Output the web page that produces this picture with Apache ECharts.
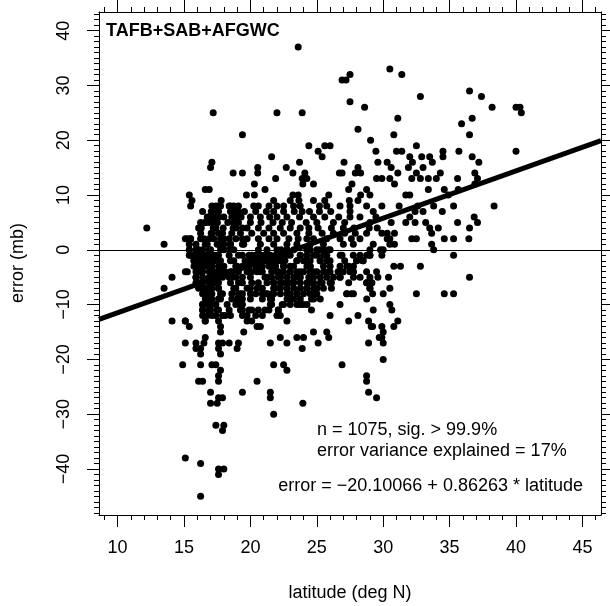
<!DOCTYPE html>
<html>
<head>
<meta charset="utf-8">
<script src="https://cdn.jsdelivr.net/npm/echarts@6/dist/echarts.min.js"></script>
<style>
html,body{margin:0;padding:0;background:#fff;}
#chart{width:610px;height:606px;}
</style>
</head>
<body>
<div id="chart"></div>
<script>
// ---- Data ----
// Each row: [error (mb), [latitudes (deg N) of points with that error]]
const upperRows = [
  [37, [23.6]],
  [33, [30.5]],
  [32, [27.5, 31.4]],
  [31, [26.9, 27.2]],
  [29, [36.5]],
  [28, [32.8, 37.4]],
  [27, [27.5]],
  [26, [28.6, 38.2, 40.0, 40.3]],
  [25, [17.2, 22.0, 23.9, 40.4]],
  [24, [31.1, 36.7]],
  [23, [35.9]],
  [22, [28.1]],
  [21, [19.4, 30.8, 36.5]],
  [20, [29.05]],
  [19, [24.4, 25.6, 26.0, 32.5]],
  [18, [25.1, 29.45, 31.0, 31.4, 34.5, 35.7, 40.0]],
  [17, [21.6, 25.4, 32.0, 32.9, 33.5, 34.5, 36.7]],
  [16, [17.1, 23.7, 27.05, 29.6, 30.3, 32.2, 33.7, 37.2]],
  [15, [17.0, 20.55, 22.7, 28.1, 30.6, 31.9, 33.0]],
  [14, [18.7, 19.4, 20.55, 23.2, 24.1, 26.7, 26.9, 27.9, 28.3, 31.1, 32.5, 34.3, 36.9]],
  [13, [21.9, 23.9, 24.25, 29.5, 29.9, 30.5, 32.15, 32.8, 33.4, 34.0, 35.6, 37.1]],
  [12, [20.3, 23.95, 24.75, 27.65, 30.85, 36.9]],
  [11, [16.6, 16.9, 21.1, 27.4, 28.75, 33.4, 34.6, 35.65]],
  [10, [15.4, 19.7, 20.3, 23.2, 23.6, 25.9, 28.3, 29.0, 31.7, 32.0, 34.9]],
  [9, [15.6, 17.8, 21.75, 23.0, 23.65, 24.75, 25.6, 27.45, 28.1]],
  [8, [17.75, 18.5, 20.25, 20.6, 21.4, 22.0, 22.5, 23.25, 23.75, 25.2, 25.75, 26.75, 27.5, 28.75, 29.9, 31.2, 32.6, 33.8, 35.3, 38.35]],
  [7, [16.4, 17.05, 17.5, 18.5, 18.95, 19.55, 20.4, 21.2, 21.75, 22.5, 23.3, 23.9, 24.45, 25.2, 26.05, 27.5, 29.25, 32.4, 33.0, 34.45]],
  [6, [17.4, 18.0, 18.6, 19.3, 20.0, 20.75, 21.45, 22.0, 22.75, 23.7, 24.75, 25.6, 26.65, 27.5, 28.25, 29.45, 32.0, 36.85]],
  [5, [16.6, 17.5, 18.3, 19.1, 20.0, 20.8, 21.7, 22.4, 23.1, 24.2, 25.0, 26.25, 27.1, 29.0, 30.6, 31.7, 32.4, 33.2, 35.6, 37.1]],
  [4, [12.2, 16.3, 17.2, 17.95, 18.7, 19.75, 20.6, 21.4, 22.25, 23.0, 23.75, 24.4, 25.1, 26.1, 27.0, 27.8, 28.95, 29.55, 33.5, 34.15, 36.5]],
  [3, [16.25, 17.05, 17.9, 18.6, 19.25, 20.1, 21.0, 21.75, 22.5, 23.5, 24.4, 25.4, 26.25, 27.1, 27.9, 28.75, 29.9, 30.3, 30.85, 33.65]],
  [2, [15.25, 15.5, 16.5, 17.25, 18.0, 18.9, 19.75, 20.6, 21.4, 22.0, 22.9, 23.6, 24.25, 24.75, 25.75, 26.75, 27.6, 28.25, 30.3, 30.5, 32.15, 32.5, 34.6, 35.3, 36.45]],
  [1, [13.5, 15.4, 16.75, 17.5, 18.5, 19.5, 20.75, 21.75, 22.75, 23.5, 24.5, 25.5, 27.0, 27.75, 29.25, 30.5, 30.85, 33.65]]
];
const middleRows = [
  [0, [15.4, 16.1, 17.0, 17.75, 18.75, 20.6, 21.25, 22.0, 22.75, 24.25, 25.25, 25.9, 29.0, 29.8, 30.0, 33.8]],
  [-1, [15.5, 16.1, 16.75, 17.4, 18.4, 19.1, 20.1, 20.75, 21.25, 22.0, 22.75, 23.75, 24.75, 25.75, 26.9, 27.75, 29.0, 29.9, 35.3]],
  [-2, [15.75, 16.4, 17.0, 17.75, 18.75, 20.0, 21.6, 22.25, 23.5, 24.25, 25.25, 26.0, 27.1, 28.0, 28.45]],
  [-3, [15.9, 16.5, 17.1, 18.0, 19.0, 19.5, 20.6, 21.6, 22.5, 23.25, 24.5, 25.5, 26.75, 27.4, 30.8, 31.3, 32.8]],
  [-4, [15.25, 16.1, 17.1, 17.75, 18.5, 19.75, 20.75, 22.0, 23.0, 23.75, 24.75, 25.9, 26.6, 27.75, 28.75]],
  [-5, [14.1, 15.9, 17.1, 17.9, 18.6, 20.0, 21.25, 22.25, 23.5, 24.4, 25.75, 26.75, 29.0, 29.6, 30.4, 36.5]],
  [-6, [16.25, 17.25, 18.5, 19.4, 20.6, 21.75, 23.1, 24.4, 25.4, 26.1, 27.4, 28.75, 29.15]],
  [-7, [13.5, 16.4, 17.0, 17.6, 18.75, 19.75, 20.75, 21.75, 22.75, 24.25, 25.0, 26.1, 29.0, 30.5]],
  [-8, [16.5, 17.75, 19.25, 20.0, 21.25, 21.75, 22.75, 23.5, 24.75, 27.25, 27.6, 29.2, 32.5, 34.6, 35.3]],
  [-9, [16.75, 17.75, 19.0, 20.0, 21.5, 23.0, 24.6]],
  [-10, [16.4, 17.4, 18.25, 19.25, 21.5, 22.5, 23.75, 26.75, 30.5]],
  [-11, [16.4, 17.0, 17.5, 18.4, 19.25, 19.9, 20.6, 21.4, 22.1, 24.6, 29.25, 30.65]],
  [-12, [16.75, 17.4, 17.9, 18.5, 19.75, 20.9, 22.0, 22.25, 26.0, 28.1]]
];
const lowerRows = [
  [-13, [14.1, 15.1, 16.6, 19.75, 22.75, 27.4, 28.9, 31.1]],
  [-14, [15.4, 17.75, 20.5, 20.75, 29.1, 29.2, 29.9, 30.8]],
  [-15, [17.75, 19.5, 24.75, 25.75, 30.0]],
  [-16, [16.6, 22.25, 23.5, 24.0, 25.9, 29.7, 29.9]],
  [-17, [15.1, 15.9, 16.5, 17.6, 17.9, 18.4, 19.1, 21.5, 22.75, 25.1, 28.9, 30.0]],
  [-18, [15.9, 16.25, 17.6, 19.0, 23.9]],
  [-19, [16.25, 17.75]],
  [-20, [30.0]],
  [-21, [14.9, 16.25, 17.1, 17.4, 21.75, 22.5, 26.9]],
  [-22, [17.75, 22.75]],
  [-23, [17.6, 28.75]],
  [-24, [16.1, 16.4, 17.6, 20.5, 28.75]],
  [-26, [17.0, 19.4, 21.5, 28.9]],
  [-27, [17.6, 17.9, 21.5, 29.5]],
  [-28, [17.0, 17.5, 23.95]],
  [-30, [21.75]],
  [-32, [17.4, 18.0]],
  [-33, [17.9]],
  [-38, [15.1]],
  [-39, [16.25]],
  [-40, [17.6, 18.0]],
  [-41, [17.6]],
  [-45, [16.25]]
];
// Additional points read from close-ups of the crowded core, west part (15-22.6 deg N)
const coreWestRows = [
  [8, [15.5, 17.1, 17.4, 17.6, 18.4, 18.75, 19.1]],
  [7, [17.6, 18.75, 19.1]],
  [6, [16.75, 17.1, 17.4, 17.6, 18.9]],
  [5, [16.25, 16.6, 16.9, 17.25, 17.5, 18.75]],
  [4, [16.1, 17.4, 18.9, 19.4]],
  [3, [17.1, 17.6]],
  [2, [15.1, 15.5, 16.25, 16.9, 17.75, 18.4, 19.4]],
  [1, [15.9, 16.6, 17.6, 18.0, 18.5, 19.4]],
  [0, [15.4, 15.9, 16.4, 16.9, 18.0, 18.4]],
  [-1, [15.4, 15.75, 16.1, 16.5, 16.9, 17.25, 17.6, 19.4, 19.9, 20.4, 20.75, 21.1, 21.5, 21.9, 22.3, 22.6]],
  [-2, [15.75, 16.1, 16.5, 16.9, 17.25, 17.6, 18.5, 19.6, 20.0, 20.4, 20.75, 21.1, 21.5, 21.9, 22.3, 22.6]],
  [-3, [15.75, 16.25, 16.75, 17.1, 17.6, 18.9, 19.4, 19.9, 20.4, 20.9, 21.4, 21.9]],
  [-4, [15.1, 15.9, 16.4, 16.9, 17.25, 17.6, 18.1, 18.6, 19.1, 20.1, 20.5, 20.9, 21.6, 22.1]],
  [-5, [15.9, 16.4, 16.9, 17.5, 18.4, 18.9, 19.4, 21.1, 21.6, 22.1]],
  [-6, [15.9, 16.4, 16.9, 17.25, 17.6, 19.1, 20.1, 21.25, 21.75, 22.4]],
  [-7, [16.1, 16.6, 17.1, 17.6, 18.9, 20.0, 20.5, 20.9, 21.9]],
  [-8, [16.4, 16.75, 17.1, 17.9, 18.6, 19.1, 19.4, 20.4, 20.9, 21.25, 21.6]],
  [-9, [16.6, 17.1, 17.6, 18.6, 19.1, 19.4, 20.9, 21.6]],
  [-10, [16.4, 16.75, 17.1, 18.9, 19.4, 21.6, 22.4]],
  [-11, [16.4, 16.9, 17.6, 19.4, 20.1, 21.1, 22.1]],
  [-12, [16.4, 17.1, 18.1, 19.4, 20.4]],
  [-13, [15.1, 16.6, 17.6, 20.1]]
];
// Additional points read from close-ups of the crowded core, east part (22.3-30 deg N)
const coreEastRows = [
  [0, [22.3, 22.76, 23.26, 24.5, 25.0, 25.5, 26.0]],
  [-1, [22.3, 23.0, 23.76, 24.26, 25.0, 25.5, 26.76, 28.26, 28.76, 29.0]],
  [-2, [23.5, 24.0, 24.5, 25.26, 25.76, 28.0, 28.5]],
  [-3, [22.5, 23.0, 24.26, 24.5, 26.0, 27.26, 27.76]],
  [-4, [22.5, 23.0, 23.5, 24.0, 24.5, 25.0, 25.5, 26.0, 27.0, 27.5, 27.76, 29.5]],
  [-5, [22.26, 22.76, 23.26, 23.76, 24.76, 25.26, 26.26, 26.76, 27.76, 28.26]],
  [-6, [22.26, 22.76, 23.26, 23.76, 24.26, 24.76, 25.26, 26.0, 28.76]],
  [-7, [22.26, 22.76, 23.26, 23.76, 24.26, 24.76, 25.0, 25.5, 29.0]],
  [-8, [22.26, 23.0, 23.5, 24.0, 24.5, 25.0, 27.26, 27.76, 30.0]],
  [-9, [22.76, 23.26, 23.76, 24.76, 25.26, 28.76]],
  [-10, [23.0, 23.5, 24.0, 24.26]]
];

// Regression coefficients, tick labels and texts
const intercept = -20.10066;
const slope = 0.86263;
const xTickLabels = [10, 15, 20, 25, 30, 35, 40, 45];
const yTickLabels = [-40, -30, -20, -10, 0, 10, 20, 30, 40];
const annotationLines = ['n = 1075, sig. > 99.9%', 'error variance explained = 17%'];
const equationText = 'error = \u221220.10066 + 0.86263 * latitude';
const titleText = 'TAFB+SAB+AFGWC';

// ---- Build ----
const X_MIN = 8.6, X_MAX = 46.4, Y_MIN = -48.4, Y_MAX = 43.4;
const points = [];
[upperRows, middleRows, lowerRows, coreWestRows, coreEastRows].forEach(rows =>
  rows.forEach(([e, lats]) => lats.forEach(l => points.push([l, e]))));

const xMinor = [], yMinor = [];
for (let v = Math.ceil(X_MIN); v <= Math.floor(X_MAX); v++) if (xTickLabels.indexOf(v) < 0) xMinor.push(v);
for (let v = Math.ceil(Y_MIN); v <= Math.floor(Y_MAX); v++) if (yTickLabels.indexOf(v) < 0) yMinor.push(v);

const FONT = '"Liberation Sans", Arial, Helvetica, sans-serif';
const black = '#000';
const fmt = v => (v < 0 ? '\u2212' + Math.abs(v) : String(v));

function mkAxis(pos, isX, major, withLabel, showLine) {
  const base = {
    type: 'value', position: pos,
    min: isX ? X_MIN : Y_MIN, max: isX ? X_MAX : Y_MAX,
    splitLine: { show: false },
    axisLine: { show: showLine, onZero: false, lineStyle: { color: black, width: 1 } },
    axisTick: { show: true, inside: false, customValues: major ? (isX ? xTickLabels : yTickLabels) : (isX ? xMinor : yMinor), length: major ? 12 : 5, lineStyle: { color: black, width: 1 } },
    axisLabel: { show: false }
  };
  if (withLabel) {
    base.axisLabel = {
      show: true, customValues: isX ? xTickLabels : yTickLabels,
      formatter: fmt, color: black, fontFamily: FONT, fontSize: 18,
      margin: isX ? 24 : 26, rotate: isX ? 0 : 90
    };
  }
  return base;
}

const chart = echarts.init(document.getElementById('chart'), null, { renderer: 'canvas' });
chart.setOption({
  animation: false,
  backgroundColor: '#fff',
  grid: { left: 99, top: 12, width: 502, height: 503, containLabel: false },
  xAxis: [
    mkAxis('bottom', true, true, true, true),
    mkAxis('bottom', true, false, false, false),
    mkAxis('top', true, true, false, true),
    mkAxis('top', true, false, false, false)
  ],
  yAxis: [
    mkAxis('left', false, true, true, true),
    mkAxis('left', false, false, false, false),
    mkAxis('right', false, true, false, true),
    mkAxis('right', false, false, false, false)
  ],
  series: [
    {
      type: 'scatter', xAxisIndex: 0, yAxisIndex: 0,
      data: points, symbol: 'circle', symbolSize: 7,
      itemStyle: { color: black, opacity: 1 },
      silent: true,
      markLine: {
        silent: true, symbol: 'none', animation: false,
        label: { show: false },
        lineStyle: { color: black, width: 1, type: 'solid' },
        data: [{ yAxis: 0 }]
      }
    },
    {
      type: 'line', xAxisIndex: 0, yAxisIndex: 0,
      data: [[X_MIN, intercept + slope * X_MIN], [X_MAX, intercept + slope * X_MAX]],
      symbol: 'none', silent: true,
      lineStyle: { color: black, width: 5, cap: 'butt' }
    }
  ],
  graphic: [
    { type: 'text', left: 106, top: 22, style: { text: titleText, font: 'bold 18px ' + FONT, fill: black } },
    { type: 'text', x: 317, y: 430, style: { text: annotationLines[0], font: '18px ' + FONT, fill: black, verticalAlign: 'middle', align: 'left' } },
    { type: 'text', x: 317, y: 451.5, style: { text: annotationLines[1], font: '18px ' + FONT, fill: black, verticalAlign: 'middle', align: 'left' } },
    { type: 'text', x: 583, y: 486.5, style: { text: equationText, font: '18px ' + FONT, fill: black, verticalAlign: 'middle', align: 'right' } },
    { type: 'text', x: 350, y: 593, style: { text: 'latitude (deg N)', font: '18px ' + FONT, fill: black, verticalAlign: 'middle', align: 'center' } },
    { type: 'text', x: 18, y: 263, rotation: Math.PI / 2, style: { text: 'error (mb)', font: '18px ' + FONT, fill: black, verticalAlign: 'middle', align: 'center' } }
  ]
});
</script>
</body>
</html>
